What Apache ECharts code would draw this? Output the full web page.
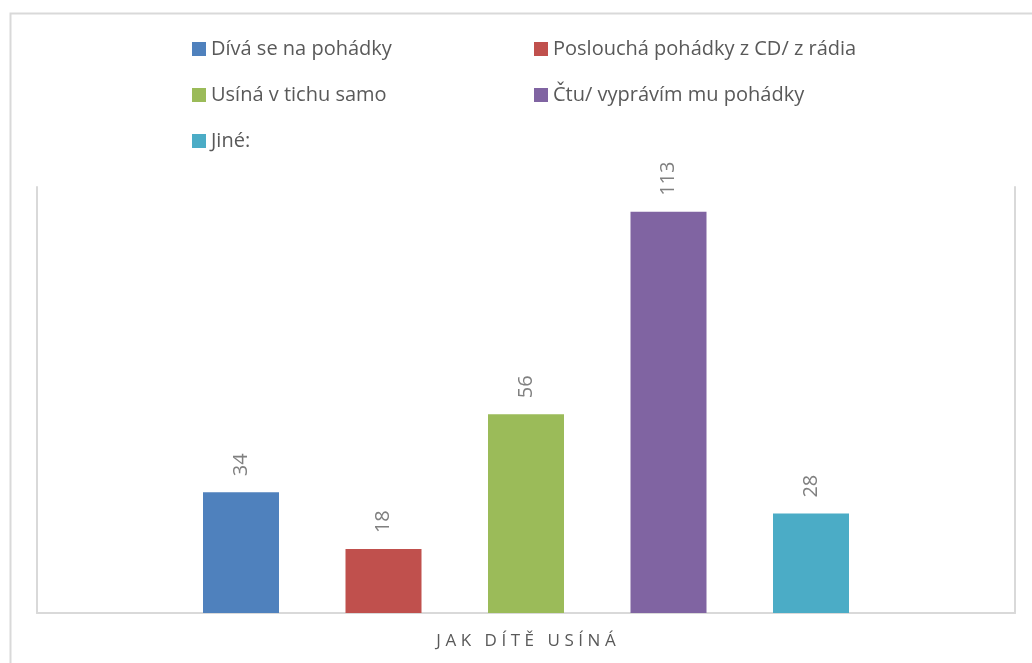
<!DOCTYPE html>
<html>
<head>
<meta charset="utf-8">
<script src="https://cdn.jsdelivr.net/npm/echarts@6/dist/echarts.min.js"></script>
<style>
  html, body { margin: 0; padding: 0; background: #fff; }
  #chart { width: 1032px; height: 663px; }
</style>
</head>
<body>
<div id="chart"></div>
<script>
// kategorie (jediná skupina sloupců)
const categories = ['JAK DÍTĚ USÍNÁ']
// názvy řad
const seriesNames = [
  'Dívá se na pohádky',
  'Poslouchá pohádky z CD/ z rádia',
  'Usíná v tichu samo',
  'Čtu/ vyprávím mu pohádky',
  'Jiné:'
]
// hodnoty řad
const divaSe = [34]
const posloucha = [18]
const usinaSamo = [56]
const ctuVypravim = [113]
const jine = [28]
const seriesValues = [divaSe, posloucha, usinaSamo, ctuVypravim, jine]
const colors = ['#4f81bd', '#c0504d', '#9bbb59', '#8064a2', '#4bacc6']

const chart = echarts.init(document.getElementById('chart'))

const legendBase = {
  orient: 'vertical',
  top: 39,
  padding: 0,
  itemWidth: 14,
  itemHeight: 14,
  itemGap: 26,
  icon: 'rect',
  selectedMode: false,
  textStyle: {
    color: '#595959',
    fontFamily: 'Open Sans',
    fontSize: 20,
    lineHeight: 20
  }
}

const axisLineStyle = { show: true, lineStyle: { color: '#d9d9d9', width: 2 } }

const option = {
  color: colors,
  animation: false,
  legend: [
    Object.assign({}, legendBase, { left: 192, data: [seriesNames[0], seriesNames[2], seriesNames[4]] }),
    Object.assign({}, legendBase, { left: 534, data: [seriesNames[1], seriesNames[3]] })
  ],
  grid: {
    left: 37,
    right: 17,
    top: 187,
    bottom: 50,
    containLabel: false
  },
  xAxis: {
    type: 'category',
    data: categories,
    axisLine: axisLineStyle,
    axisTick: { show: false },
    axisLabel: {
      margin: 20,
      color: '#595959',
      fontFamily: 'Open Sans',
      fontSize: 17,
      // prostrkání písmen jako v originálu
      formatter: v => v.split('').join('\u2009\u200A')
    }
  },
  yAxis: [
    {
      type: 'value',
      min: 0,
      max: 120,
      position: 'left',
      axisLine: axisLineStyle,
      axisTick: { show: false },
      axisLabel: { show: false },
      splitLine: { show: false }
    },
    {
      type: 'value',
      min: 0,
      max: 120,
      position: 'right',
      axisLine: axisLineStyle,
      axisTick: { show: false },
      axisLabel: { show: false },
      splitLine: { show: false }
    }
  ],
  graphic: [
    {
      type: 'rect',
      left: 8,
      top: 11,
      shape: { width: 1040, height: 700 },
      style: { fill: 'none', stroke: '#d9d9d9', lineWidth: 2 },
      silent: true
    }
  ],
  series: seriesNames.map((name, i) => ({
    name: name,
    type: 'bar',
    yAxisIndex: 0,
    data: seriesValues[i],
    barWidth: 76,
    barGap: '87.5%',
    barCategoryGap: '34%',
    label: {
      show: true,
      position: 'top',
      rotate: 90,
      align: 'left',
      verticalAlign: 'middle',
      distance: 16,
      color: '#808080',
      fontFamily: 'Open Sans',
      fontSize: 20
    }
  }))
}

chart.setOption(option)
</script>
</body>
</html>
